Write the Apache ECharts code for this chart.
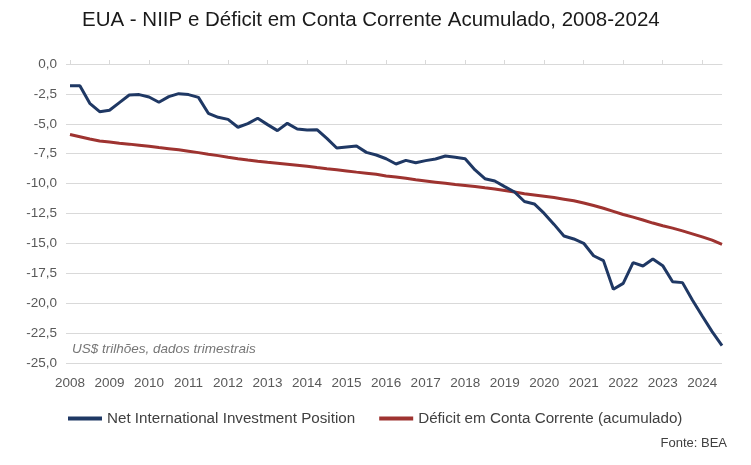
<!DOCTYPE html>
<html>
<head>
<meta charset="utf-8">
<script src="https://cdn.jsdelivr.net/npm/echarts@6/dist/echarts.min.js"></script>
<style>
html,body{margin:0;padding:0;background:#fff;}
#chart{width:751px;height:465px;}
</style>
</head>
<body>
<div id="chart"></div>
<script>
// Quarters 2008Q1 .. 2024Q3
var years = ['2008','2009','2010','2011','2012','2013','2014','2015','2016','2017','2018','2019','2020','2021','2022','2023','2024'];
var quarters = ['T1','T2','T3','T4'];
var categories = [];
years.forEach(function (y) { quarters.forEach(function (q) { categories.push(y + q); }); });
categories = categories.slice(0, 67);

var niip = [
  -1.81, -1.81, -3.29, -3.99, -3.87, -3.23, -2.59, -2.56,
  -2.76, -3.20, -2.73, -2.48, -2.56, -2.79, -4.12, -4.46,
  -4.63, -5.29, -4.99, -4.54, -5.07, -5.57, -4.96, -5.43,
  -5.52, -5.49, -6.22, -7.02, -6.94, -6.86, -7.39, -7.61,
  -7.92, -8.36, -8.06, -8.25, -8.08, -7.94, -7.69, -7.80,
  -7.92, -8.86, -9.59, -9.78, -10.25, -10.70, -11.50, -11.70,
  -12.49, -13.41, -14.38, -14.63, -14.99, -16.03, -16.44, -18.84,
  -18.34, -16.61, -16.89, -16.30, -16.86, -18.20, -18.28, -19.73,
  -21.07, -22.38, -23.55
];

var deficitAcum = [
  -5.89, -6.08, -6.27, -6.44, -6.53, -6.62, -6.70, -6.79,
  -6.88, -6.99, -7.08, -7.17, -7.29, -7.41, -7.55, -7.66,
  -7.80, -7.92, -8.03, -8.13, -8.22, -8.30, -8.38, -8.46,
  -8.55, -8.66, -8.76, -8.85, -8.94, -9.04, -9.13, -9.22,
  -9.36, -9.45, -9.56, -9.68, -9.78, -9.88, -9.98, -10.08,
  -10.16, -10.24, -10.35, -10.45, -10.57, -10.70, -10.84, -10.95,
  -11.06, -11.17, -11.30, -11.44, -11.62, -11.83, -12.06, -12.32,
  -12.58, -12.80, -13.04, -13.30, -13.52, -13.72, -13.95, -14.20,
  -14.45, -14.72, -15.08
];

var seriesNames = ['Net International Investment Position', 'Déficit em Conta Corrente (acumulado)'];
var titleText = 'EUA - NIIP e Déficit em Conta Corrente Acumulado, 2008-2024';
var unitNote = 'US$ trilhões, dados trimestrais';
var sourceNote = 'Fonte: BEA';

var FONT = '"Liberation Sans", Arial, sans-serif';
var chart = echarts.init(document.getElementById('chart'), null, {renderer: 'canvas'});

chart.setOption({
  animation: false,
  backgroundColor: '#ffffff',
  title: {
    text: titleText,
    left: 77,
    top: 5,
    textStyle: {fontFamily: FONT, fontSize: 20.5, fontWeight: 'normal', color: '#1a1a1a'}
  },
  grid: {left: 70, right: 29, top: 64, bottom: 102, containLabel: false},
  legend: {
    left: 68,
    top: 411,
    padding: 0,
    itemWidth: 34,
    itemHeight: 4,
    itemGap: 24,
    icon: 'rect',
    textStyle: {fontFamily: FONT, fontSize: 15.2, color: '#404040'},
    data: seriesNames
  },
  xAxis: [
    {
      type: 'category',
      data: categories,
      boundaryGap: false,
      position: 'bottom',
      axisLine: {show: false},
      axisTick: {show: false},
      splitLine: {show: false},
      axisLabel: {
        interval: 3,
        margin: 13,
        fontFamily: FONT,
        fontSize: 13.5,
        color: '#595959',
        formatter: function (v) { return v.slice(0, 4); }
      }
    },
    {
      type: 'category',
      data: categories,
      boundaryGap: false,
      position: 'top',
      axisLine: {show: true, lineStyle: {color: '#d9d9d9', width: 1}},
      axisTick: {show: true, interval: 3, length: 4, lineStyle: {color: '#d9d9d9'}},
      axisLabel: {show: false},
      splitLine: {show: false}
    }
  ],
  yAxis: {
    type: 'value',
    min: -25,
    max: 0,
    interval: 2.5,
    axisLine: {show: false},
    axisTick: {show: true, length: 4, lineStyle: {color: '#d9d9d9'}},
    splitLine: {show: true, lineStyle: {color: '#d9d9d9', width: 1}},
    axisLabel: {
      margin: 13,
      fontFamily: FONT,
      fontSize: 13.5,
      color: '#595959',
      formatter: function (v) { return (v === 0 ? 0 : v).toFixed(1).replace('.', ','); }
    }
  },
  graphic: [
    {
      type: 'text',
      left: 72,
      top: 342,
      style: {text: unitNote, font: 'italic 13.5px "Liberation Sans", Arial, sans-serif', fill: '#767676'}
    },
    {
      type: 'text',
      right: 24,
      top: 437,
      style: {text: sourceNote, font: '13px "Liberation Sans", Arial, sans-serif', fill: '#404040'}
    }
  ],
  series: [
    {
      name: seriesNames[0],
      type: 'line',
      xAxisIndex: 0,
      data: niip,
      showSymbol: false,
      symbol: 'none',
      lineStyle: {color: '#1F3864', width: 3},
      itemStyle: {color: '#1F3864'},
      z: 3
    },
    {
      name: seriesNames[1],
      type: 'line',
      xAxisIndex: 0,
      data: deficitAcum,
      showSymbol: false,
      symbol: 'none',
      lineStyle: {color: '#9E3330', width: 3},
      itemStyle: {color: '#9E3330'},
      z: 2
    }
  ]
});
</script>
</body>
</html>
